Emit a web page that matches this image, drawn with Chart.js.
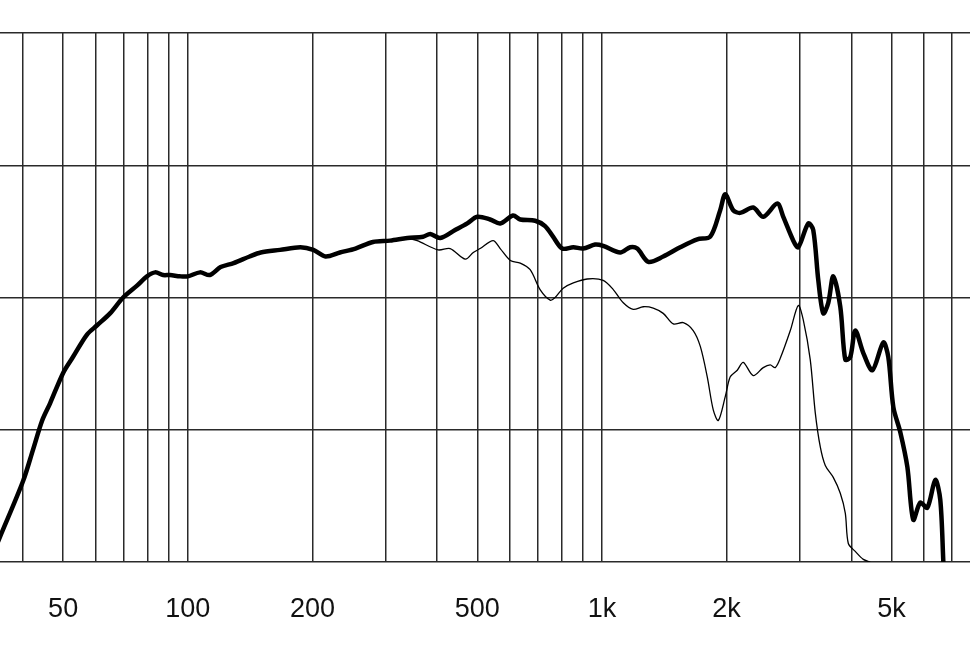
<!DOCTYPE html>
<html>
<head>
<meta charset="utf-8">
<title>Frequency response</title>
<script src="https://cdn.jsdelivr.net/npm/chart.js@4/dist/chart.umd.min.js"></script>
<style>
  html, body { margin: 0; padding: 0; background: #fff; }
  #wrap { width: 970px; height: 647px; }
</style>
</head>
<body>
<div id="wrap"><canvas id="responseChart" width="970" height="647"></canvas></div>
<script>
// on-axis response (thick curve), Hz / dB
const thickFreq = [33.3, 35.2, 40.0, 42.3, 44.5, 46.5, 50.0, 52.8, 57.1, 60.4, 64.9, 69.8, 75.4, 79.7, 83.4, 87.2, 90.6, 95.8, 100,
  107, 113, 120, 129, 141, 150, 167, 187, 201, 215, 233, 254, 280, 308, 339, 370, 385, 407, 442, 473, 500, 537, 568, 610, 635,
  690, 729, 762, 802, 853, 901, 963, 1007, 1107, 1170, 1217, 1294, 1406, 1545, 1699, 1826, 1930, 1985, 2075, 2157, 2319, 2452,
  2651, 2741, 2898, 2979, 3149, 3238, 3330, 3423, 3520, 3619, 3763, 3869, 3978, 4090, 4277, 4499, 4780, 4914, 5055, 5255, 5463,
  5646, 5871, 6104, 6382, 6561, 6674];
const thickLevel = [50.1, 51.9, 56.1, 58.5, 60.7, 62.0, 64.3, 65.5, 67.2, 67.9, 68.8, 70.0, 70.9, 71.6, 71.9, 71.7, 71.7, 71.6, 71.6,
  71.9, 71.7, 72.3, 72.6, 73.1, 73.4, 73.6, 73.8, 73.6, 73.1, 73.4, 73.7, 74.2, 74.3, 74.5, 74.6, 74.8, 74.5, 75.1, 75.6, 76.1, 75.9, 75.6, 76.2, 75.9,
  75.8, 75.4, 74.6, 73.7, 73.8, 73.7, 74.0, 73.9, 73.4, 73.8, 73.7, 72.7, 73.1, 73.8, 74.4, 74.6, 76.6, 77.8, 76.6, 76.4, 76.8, 76.1,
  77.1, 76.1, 74.3, 73.8, 75.6, 75.1, 71.3, 68.8, 69.6, 71.6, 69.3, 65.3, 65.5, 67.5, 65.8, 64.5, 66.6, 65.5, 61.7, 59.8, 57.2,
  53.2, 54.5, 54.1, 56.2, 54.7, 50.0];

// off-axis response (thin curve)
const thinFreq = [339, 358, 402, 430, 468, 489, 508, 546, 568, 601, 635, 671, 709, 750, 771, 806, 853, 921, 1007, 1065, 1126,
  1190, 1258, 1330, 1406, 1487, 1572, 1661, 1728, 1796, 1857, 1910, 1985, 2041, 2122, 2194, 2319, 2452, 2549, 2621, 2695, 2850,
  2979, 3063, 3184, 3274, 3367, 3462, 3619, 3763, 3869, 3935, 4090, 4277, 4446];
const thinLevel = [74.5, 74.3, 73.6, 73.7, 72.9, 73.4, 73.7, 74.3, 73.7, 72.8, 72.6, 72.1, 70.6, 69.8, 70.0, 70.7, 71.1, 71.4, 71.3, 70.6, 69.6,
  69.1, 69.3, 69.2, 68.8, 68.0, 68.1, 67.5, 66.3, 64.0, 61.5, 60.7, 62.5, 64.0, 64.5, 65.1, 64.1, 64.7, 64.9, 64.7, 65.4, 67.5,
  69.4, 68.3, 65.3, 61.3, 58.7, 57.3, 56.4, 55.2, 53.7, 51.4, 50.8, 50.2, 50.0];

// grid lines and axis labels
const gridFreqs = [40, 50, 60, 70, 80, 90, 100, 200, 300, 400, 500, 600, 700, 800, 900, 1000,
  2000, 3000, 4000, 5000, 6000, 7000];
const tickLabels = { 50: '50', 100: '100', 200: '200', 500: '500', 1000: '1k', 2000: '2k', 5000: '5k' };

const toPoints = (xs, ys) => xs.map((f, i) => ({ x: f, y: ys[i] }));

const ctx = document.getElementById('responseChart').getContext('2d');

new Chart(ctx, {
  type: 'line',
  data: {
    datasets: [
      {
        data: toPoints(thickFreq, thickLevel),
        borderColor: '#000',
        borderWidth: 4.5,
        pointRadius: 0,
        tension: 0.3,
        borderJoinStyle: 'round',
        borderCapStyle: 'round'
      },
      {
        data: toPoints(thinFreq, thinLevel),
        borderColor: '#000',
        borderWidth: 1.3,
        pointRadius: 0,
        tension: 0.3
      }
    ]
  },
  options: {
    responsive: false,
    animation: false,
    devicePixelRatio: 1,
    layout: { autoPadding: false, padding: { top: 33, left: 0, right: 0, bottom: 0 } },
    plugins: {
      legend: { display: false },
      tooltip: { enabled: false }
    },
    scales: {
      x: {
        type: 'logarithmic',
        min: 35.2,
        max: 7740,
        bounds: 'data',
        afterBuildTicks: (scale) => {
          scale.ticks = gridFreqs.map(v => ({ value: v }));
        },
        afterFit: (scale) => {
          scale.height = 85;
          scale.paddingLeft = 0;
          scale.paddingRight = 0;
        },
        grid: { color: '#2a2a2a', lineWidth: 1.5, drawTicks: false },
        border: { display: false },
        ticks: {
          autoSkip: false,
          maxRotation: 0,
          padding: 31,
          color: '#111',
          font: { family: '"Liberation Sans", Arial, sans-serif', size: 27 },
          callback: (value) => tickLabels[value] || ''
        }
      },
      y: {
        min: 50,
        max: 90,
        afterFit: (scale) => { scale.width = 0; },
        ticks: { display: false, stepSize: 10 },
        grid: { color: '#2a2a2a', lineWidth: 1.5, drawTicks: false },
        border: { display: false }
      }
    }
  }
});
</script>
</body>
</html>
